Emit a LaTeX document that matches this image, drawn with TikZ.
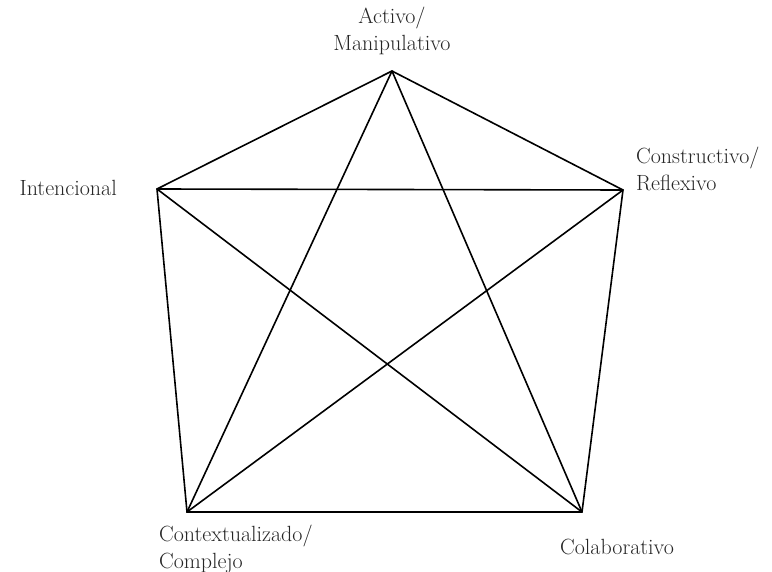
\documentclass[tikz,border=0pt]{standalone}
\begin{document}
\begin{tikzpicture}[x=1pt,y=-1pt,
  edge/.style={draw=black,line width=1.6pt,line join=miter},
  lbl/.style={font=\fontsize{22}{27}\selectfont,text=black!85,inner sep=0pt,align=center}]
\useasboundingbox (0,0) rectangle (772,572);
\coordinate (A) at (392,71);
\coordinate (C) at (623,190);
\coordinate (K) at (582,512);
\coordinate (X) at (187,512);
\coordinate (I) at (157,189);
\draw[edge] (A) -- (C) -- (K) -- (X) -- (I) -- cycle;
\draw[edge] (A) -- (K);
\draw[edge] (A) -- (X);
\draw[edge] (I) -- (C);
\draw[edge] (I) -- (K);
\draw[edge] (C) -- (X);
\node[lbl] (tA) at (392,31) {Activo/\\Manipulativo};
\node[lbl,align=left,anchor=west] (tC) at (636,169) {Constructivo/\\Reflexivo};
\node[lbl,anchor=east] (tI) at (117,188) {Intencional};
\node[lbl,align=left,anchor=west] (tX) at (159,549) {Contextualizado/\\Complejo};
\node[lbl,anchor=west] (tK) at (560,547) {Colaborativo};
\end{tikzpicture}
\end{document}
